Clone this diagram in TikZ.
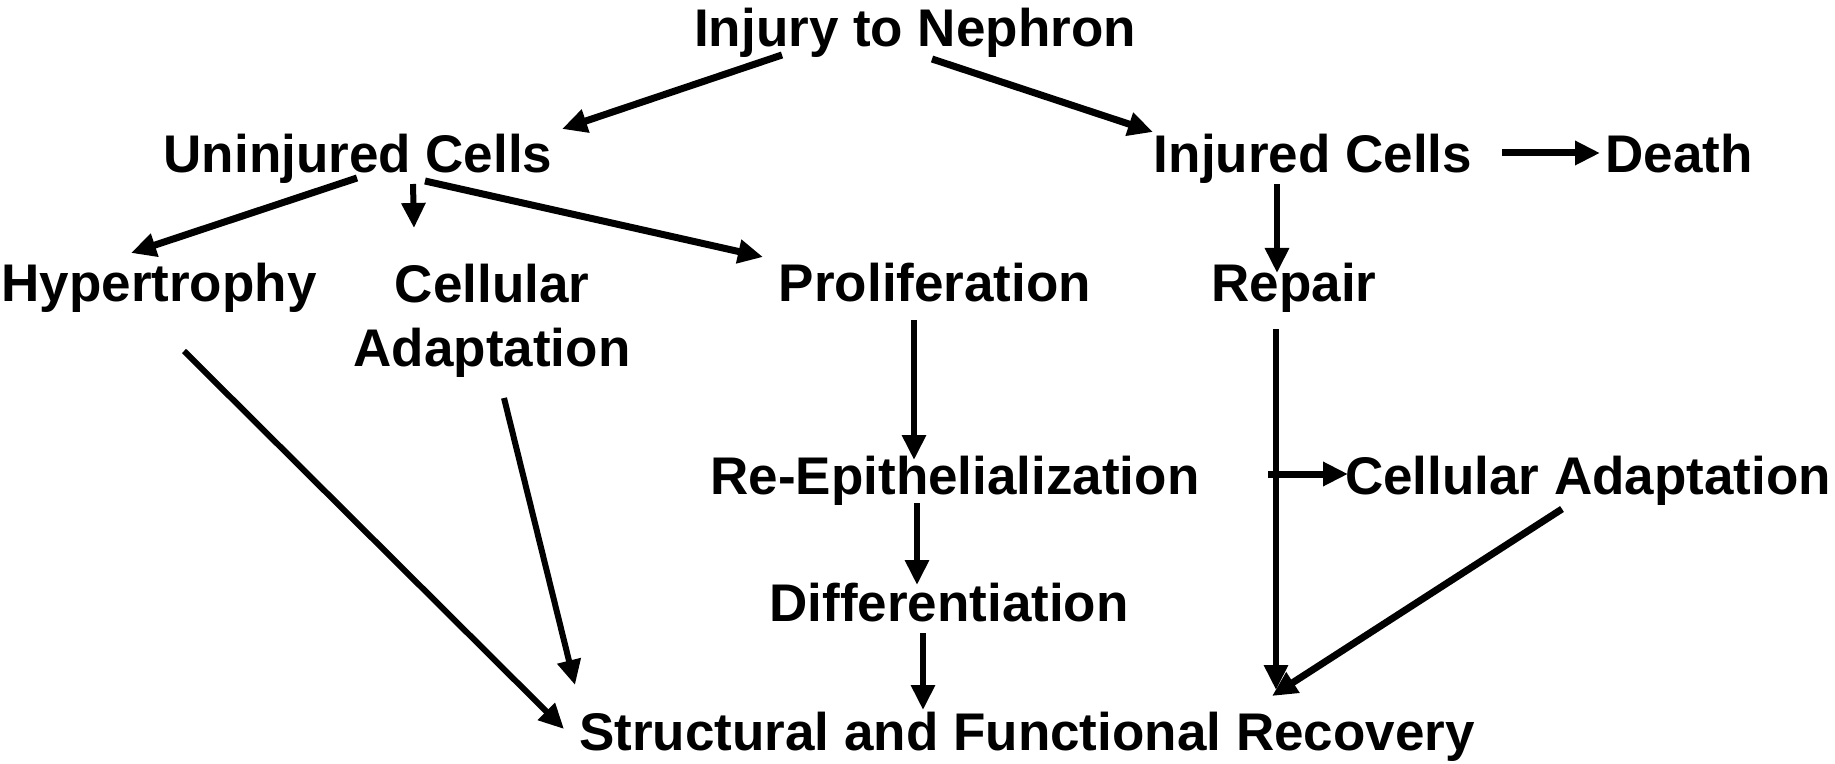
\documentclass[tikz,border=0pt]{standalone}
\usepackage{fontspec}
\setmainfont{Liberation Sans}
\usetikzlibrary{arrows.meta}
\begin{document}
\begin{tikzpicture}[x=0.5pt,y=-0.5pt,
  lbl/.style={font=\fontsize{26.5pt}{32pt}\selectfont\bfseries, inner sep=0pt, anchor=base},
  arr/.style={line width=3pt, -{Triangle[length=12.5pt,width=11.5pt]}},
  tarr/.style={arr, line width=3.5pt}]
\useasboundingbox (0,0) rectangle (1835,764);
\node[lbl] (inj) at (915,47) {Injury to Nephron};
\node[lbl] (unj) at (358,173) {Uninjured Cells};
\node[lbl] (injc) at (1313,173) {Injured Cells};
\node[lbl] (death) at (1679,173) {Death};
\node[lbl] (hyp) at (159,302) {Hypertrophy};
\node[lbl, anchor=center, align=center] (cadl) at (492,321) {Cellular\\Adaptation};
\node[lbl] (prolif) at (935,302) {Proliferation};
\node[lbl] (repair) at (1294,302) {Repair};
\node[lbl] (reepi) at (955,494) {Re-Epithelialization};
\node[lbl] (cadr) at (1588,494) {Cellular Adaptation};
\node[lbl] (diff) at (949,621) {Differentiation};
\node[lbl] (sfr) at (1027,750) {Structural and Functional Recovery};
\coordinate (br) at (1268,474);

\draw[tarr] ([shift={(-133,8)}]inj.base) -- ([shift={(204,-44)}]unj.base);
\draw[tarr] ([shift={(17,12)}]inj.base) -- ([shift={(-160,-41)}]injc.base);
\draw[tarr] ([shift={(189,-20)}]injc.base) -- ([shift={(-79,-20)}]death.base);
\draw[tarr] ([shift={(-1,5)}]unj.base) -- ([shift={(-28,-49)}]hyp.base);
\draw[arr] ([shift={(55,11)}]unj.base) -- ([shift={(-78,-93)}]cadl.center);
\draw[tarr] ([shift={(67,8)}]unj.base) -- ([shift={(-172,-45)}]prolif.base);
\draw[arr] ([shift={(-36,11)}]injc.base) -- ([shift={(-17,-29)}]repair.base);
\draw[arr] ([shift={(-21,18)}]prolif.base) -- ([shift={(-41,-34)}]reepi.base);
\draw[arr] ([shift={(-38,9)}]reepi.base) -- ([shift={(-32,-36)}]diff.base);
\draw[arr] ([shift={(-26,12)}]diff.base) -- ([shift={(-104,-40)}]sfr.base);
\draw[arr] ([shift={(-18,27)}]repair.base) -- ([shift={(249,-60)}]sfr.base);
\draw[tarr] (br) -- ([shift={(-240,-20)}]cadr.base);
\draw[tarr] ([shift={(-26,15)}]cadr.base) -- ([shift={(245,-54)}]sfr.base);
\draw[arr] ([shift={(25,49)}]hyp.base) -- ([shift={(-463,-21)}]sfr.base);
\draw[arr] ([shift={(12,77)}]cadl.center) -- ([shift={(-452,-65)}]sfr.base);
\end{tikzpicture}
\end{document}
